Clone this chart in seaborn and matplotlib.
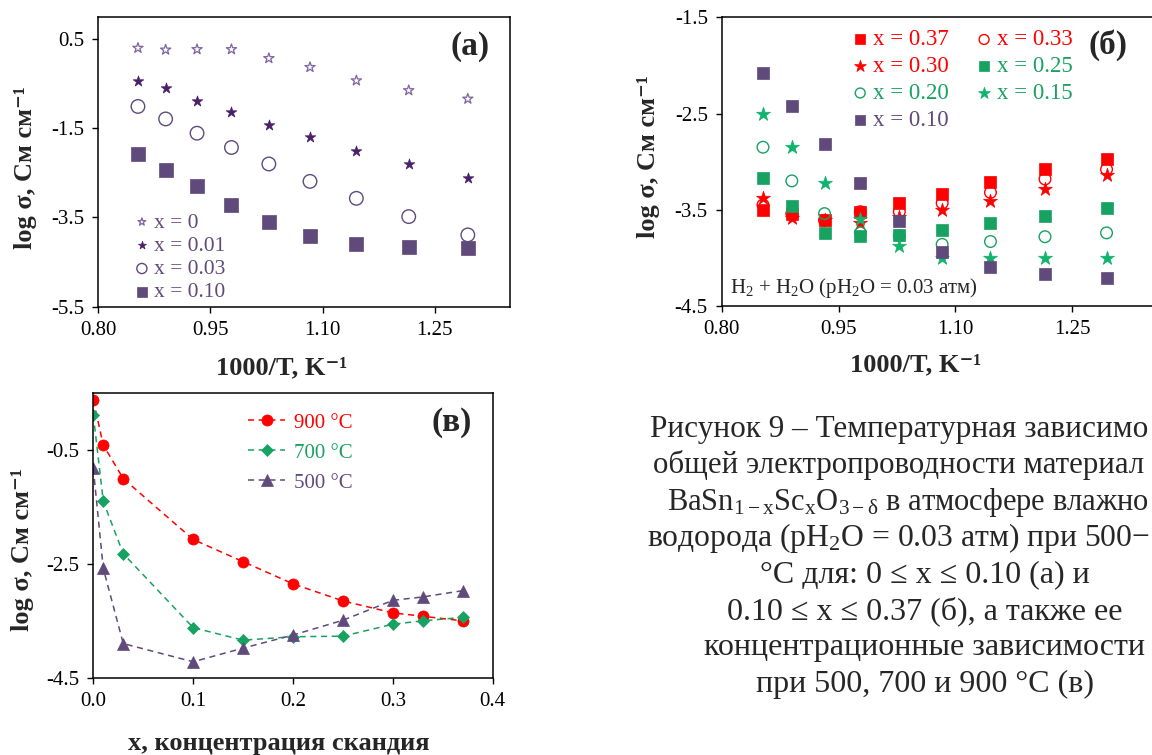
import matplotlib
matplotlib.use("Agg")
import matplotlib.pyplot as plt
import seaborn as sns
import pandas as pd

# ---------------- data ----------------
inv_T = [0.853, 0.890, 0.932, 0.978, 1.028, 1.083, 1.145, 1.215, 1.294]

# panel (a): 0 <= x <= 0.10
a_x000 = [0.30, 0.26, 0.27, 0.27, 0.07, -0.13, -0.43, -0.65, -0.84]
a_x001 = [-0.43, -0.60, -0.88, -1.14, -1.42, -1.70, -2.00, -2.30, -2.62]
a_x003 = [-1.01, -1.29, -1.61, -1.93, -2.30, -2.69, -3.07, -3.48, -3.89]
a_x010 = [-2.08, -2.43, -2.80, -3.22, -3.60, -3.91, -4.10, -4.17, -4.19]
a_labels = ["x = 0", "x = 0.01", "x = 0.03", "x = 0.10"]

# panel (б): 0.10 <= x <= 0.37
b_x037 = [-3.50, -3.54, -3.61, -3.52, -3.43, -3.34, -3.21, -3.08, -2.97]
b_x033 = [-3.45, -3.54, -3.61, -3.52, -3.52, -3.43, -3.32, -3.18, -3.08]
b_x030 = [-3.38, -3.59, -3.61, -3.64, -3.58, -3.50, -3.41, -3.28, -3.14]
b_x025 = [-3.17, -3.46, -3.74, -3.77, -3.76, -3.71, -3.64, -3.56, -3.48]
b_x020 = [-2.85, -3.20, -3.54, -3.74, -3.77, -3.86, -3.83, -3.78, -3.74]
b_x015 = [-2.50, -2.85, -3.22, -3.60, -3.88, -4.00, -4.00, -4.00, -4.00]
b_x010 = [-2.08, -2.42, -2.82, -3.22, -3.62, -3.94, -4.09, -4.17, -4.21]
b_labels = ["x = 0.37", "x = 0.33", "x = 0.30", "x = 0.25", "x = 0.20", "x = 0.15", "x = 0.10"]

# panel (в): concentration dependences
conc = [0.0, 0.01, 0.03, 0.10, 0.15, 0.20, 0.25, 0.30, 0.33, 0.37]
t900 = [0.38, -0.41, -1.00, -2.07, -2.46, -2.85, -3.15, -3.36, -3.42, -3.50]
t700 = [0.12, -1.40, -2.32, -3.62, -3.84, -3.78, -3.77, -3.56, -3.50, -3.44]
t500 = [-0.82, -2.58, -3.90, -4.22, -3.98, -3.75, -3.49, -3.14, -3.08, -2.97]
c_labels = ["900 °C", "700 °C", "500 °C"]

a_ticks_x = [0.80, 0.95, 1.10, 1.25]
a_ticks_y = [0.5, -1.5, -3.5, -5.5]
b_ticks_y = [-1.5, -2.5, -3.5, -4.5]
c_ticks_x = [0.0, 0.1, 0.2, 0.3, 0.4]
c_ticks_y = [-0.5, -2.5, -4.5]

# caption as visible in the (right-cropped) source image
caption_left = [
    "Рисунок 9 – Температурная зависимо",
    "общей электропроводности материал",
    r"BaSn$_{\mathrm{1-x}}$Sc$_{\mathrm{x}}$O$_{\mathrm{3-\delta}}$ в атмосфере влажно",
    r"водорода (pH$_{\mathrm{2}}$O = 0.03 атм) при 500−",
]
caption_center = [
    "°С для: 0 ≤ x ≤ 0.10 (а) и",
    "0.10 ≤ x ≤ 0.37 (б), а также ее",
    "концентрационные зависимости",
    "при 500, 700 и 900 °С (в)",
]

# ---------------- style ----------------
sns.set_style("ticks")
plt.rcParams["font.family"] = ["Liberation Serif", "DejaVu Serif"]
plt.rcParams["mathtext.fontset"] = "custom"
plt.rcParams["mathtext.rm"] = "Liberation Serif"
plt.rcParams["mathtext.it"] = "Liberation Serif:italic"
plt.rcParams["mathtext.bf"] = "Liberation Serif:bold"
plt.rcParams["axes.unicode_minus"] = False
plt.rcParams["axes.linewidth"] = 1.1
plt.rcParams["axes.edgecolor"] = "black"

RED = "#ff0000"
GREEN = "#18a262"
GREEN_STAR = "#10b46c"
PURPLE = "#604a7b"
PURPLE_L = "#8064a2"
PURPLE_D = "#4a1f6a"

W, H = 1152, 755
fig = plt.figure(figsize=(W / 100, H / 100), dpi=100)


def px_axes(left, top, right, bottom):
    return fig.add_axes([left / W, 1 - bottom / H, (right - left) / W, (bottom - top) / H])


def style_axes(ax, xticks, yticks, xfmt, yfmt, xlim, ylim):
    ax.set_xlim(*xlim)
    ax.set_ylim(*ylim)
    ax.set_xticks(xticks)
    ax.set_yticks(yticks)
    ax.set_xticklabels([xfmt.format(v) for v in xticks])
    ax.set_yticklabels([yfmt.format(v) for v in yticks])
    ax.tick_params(direction="out", length=4, width=1.0, labelsize=15, colors="black", pad=6)
    for s in ax.spines.values():
        s.set_visible(True)
        s.set_color("black")
        s.set_linewidth(1.1)


ylab = "log σ, См см⁻¹"
xlab = "1000/T, K⁻¹"

# ---------------- panel (a) ----------------
axa = px_axes(98.3, 16.8, 509.7, 306.7)
sns.scatterplot(x=inv_T, y=a_x000, marker="*", s=60, facecolor="none", edgecolor=PURPLE_L, linewidth=0.9, ax=axa)
sns.scatterplot(x=inv_T, y=a_x001, marker="*", s=65, color=PURPLE_D, edgecolor=PURPLE_D, linewidth=0.5, ax=axa)
sns.scatterplot(x=inv_T, y=a_x003, marker="o", s=95, facecolor="none", edgecolor=PURPLE, linewidth=1.0, ax=axa)
sns.scatterplot(x=inv_T, y=a_x010, marker="s", s=95, color=PURPLE, edgecolor=PURPLE, linewidth=0.5, ax=axa)
style_axes(axa, a_ticks_x, a_ticks_y, "{:.2f}", "{:.1f}", (0.80, 1.35), (-5.5, 1.0))
axa.set_xlabel(xlab, fontsize=19, fontweight="bold", va="center")
axa.xaxis.set_label_coords(0.446, -0.211)
axa.set_ylabel(ylab, fontsize=19, fontweight="bold", va="center")
axa.yaxis.set_label_coords(-0.178, 0.48)
axa.legend(axa.collections, a_labels, loc="upper left", bbox_to_anchor=(0.085, 0.325),
           frameon=False, fontsize=15.5, handlelength=0.8, handletextpad=0.15,
           labelspacing=0.15, borderpad=0, borderaxespad=0, markerscale=0.75,
           labelcolor=PURPLE)
fig.text(470 / W, 1 - 47 / H, "(a)", ha="center", va="center", fontsize=24, fontweight="bold")

# ---------------- panel (б) ----------------
# right edge lies just past the picture border (cropped in the source)
axb = px_axes(721.7, 17.3, 1154.3, 306.0)
hb = {}
hb["x = 0.37"] = sns.scatterplot(x=inv_T, y=b_x037, marker="s", s=75, color=RED, edgecolor=RED, linewidth=0.5, ax=axb).collections[-1]
hb["x = 0.33"] = sns.scatterplot(x=inv_T, y=b_x033, marker="o", s=70, facecolor="none", edgecolor=RED, linewidth=1.0, ax=axb).collections[-1]
hb["x = 0.30"] = sns.scatterplot(x=inv_T, y=b_x030, marker="*", s=110, color=RED, edgecolor=RED, linewidth=0.5, ax=axb).collections[-1]
hb["x = 0.25"] = sns.scatterplot(x=inv_T, y=b_x025, marker="s", s=75, color=GREEN, edgecolor=GREEN, linewidth=0.5, ax=axb).collections[-1]
hb["x = 0.20"] = sns.scatterplot(x=inv_T, y=b_x020, marker="o", s=70, facecolor="none", edgecolor=GREEN, linewidth=1.0, ax=axb).collections[-1]
hb["x = 0.15"] = sns.scatterplot(x=inv_T, y=b_x015, marker="*", s=110, color=GREEN_STAR, edgecolor=GREEN_STAR, linewidth=0.5, ax=axb).collections[-1]
hb["x = 0.10"] = sns.scatterplot(x=inv_T, y=b_x010, marker="s", s=75, color=PURPLE, edgecolor=PURPLE, linewidth=0.5, ax=axb).collections[-1]
style_axes(axb, a_ticks_x, b_ticks_y, "{:.2f}", "{:.1f}", (0.80, 1.3553), (-4.5, -1.5))
axb.set_xlabel(xlab, fontsize=19, fontweight="bold", va="center")
axb.xaxis.set_label_coords(0.449, -0.204)
axb.set_ylabel(ylab, fontsize=19, fontweight="bold", va="center")
axb.yaxis.set_label_coords(-0.170, 0.516)
order = ["x = 0.37", "x = 0.30", "x = 0.20", "x = 0.10", "x = 0.33", "x = 0.25", "x = 0.15"]
bcol = {"x = 0.37": RED, "x = 0.33": RED, "x = 0.30": RED, "x = 0.25": GREEN,
        "x = 0.20": GREEN, "x = 0.15": GREEN, "x = 0.10": PURPLE}
axb.legend([hb[k] for k in order], order, ncol=2, loc="upper left", bbox_to_anchor=(0.299, 0.958),
           frameon=False, fontsize=16.5, handlelength=0.8, handletextpad=0.15, columnspacing=1.15,
           labelspacing=0.25, borderpad=0, borderaxespad=0, markerscale=0.85,
           labelcolor=[bcol[k] for k in order])
fig.text(1108 / W, 1 - 45 / H, "(б)", ha="center", va="center", fontsize=24, fontweight="bold")
fig.text(730 / W, 1 - 288 / H, r"H$_{\mathrm{2}}$ + H$_{\mathrm{2}}$O (pH$_{\mathrm{2}}$O = 0.03 атм)",
         ha="left", va="center", fontsize=15)

# ---------------- panel (в) ----------------
axc = px_axes(93.3, 393.3, 492.7, 677.7)
dfc = pd.DataFrame({"x": conc, "900": t900, "700": t700, "500": t500})
for col, color, mk, ms, lab in [("900", RED, "o", 8, c_labels[0]),
                                ("700", GREEN, "D", 6.5, c_labels[1]),
                                ("500", PURPLE, "^", 9, c_labels[2])]:
    sns.lineplot(data=dfc, x="x", y=col, color=color, marker=mk, markersize=ms,
                 markeredgecolor=color, markeredgewidth=0.5, linestyle=(0, (4, 3)),
                 linewidth=1.1, label=lab, ax=axc)
style_axes(axc, c_ticks_x, c_ticks_y, "{:.1f}", "{:.1f}", (0.0, 0.4), (-4.5, 0.5))
axc.set_xlabel("x, концентрация скандия", fontsize=19, fontweight="bold", va="center")
axc.xaxis.set_label_coords(0.465, -0.232)
axc.set_ylabel(ylab, fontsize=19, fontweight="bold", va="center")
axc.yaxis.set_label_coords(-0.1785, 0.452)
axc.legend(loc="upper left", bbox_to_anchor=(0.387, 0.930), frameon=False, fontsize=15,
           handlelength=1.8, handletextpad=0.4, labelspacing=0.5, borderpad=0,
           borderaxespad=0, labelcolor="linecolor")
fig.text(452 / W, 1 - 423 / H, "(в)", ha="center", va="center", fontsize=24, fontweight="bold")

# ---------------- caption ----------------
left_x = [650, 653, 667, 647]
left_base = [437, 473, 510, 546]
renderer = fig.canvas.get_renderer()
for line, xx, yy in zip(caption_left, left_x, left_base):
    t = fig.text(xx / W, 1 - yy / H, line, ha="left", va="baseline", fontsize=23)
    fs = 23.0
    while t.get_window_extent(renderer).x1 > W - 2 and fs > 18:
        fs -= 0.25
        t.set_fontsize(fs)
center_base = [582, 619, 655, 692]
for line, yy in zip(caption_center, center_base):
    fig.text(925 / W, 1 - yy / H, line, ha="center", va="baseline", fontsize=23)

fig.savefig("out.png", dpi=100)
